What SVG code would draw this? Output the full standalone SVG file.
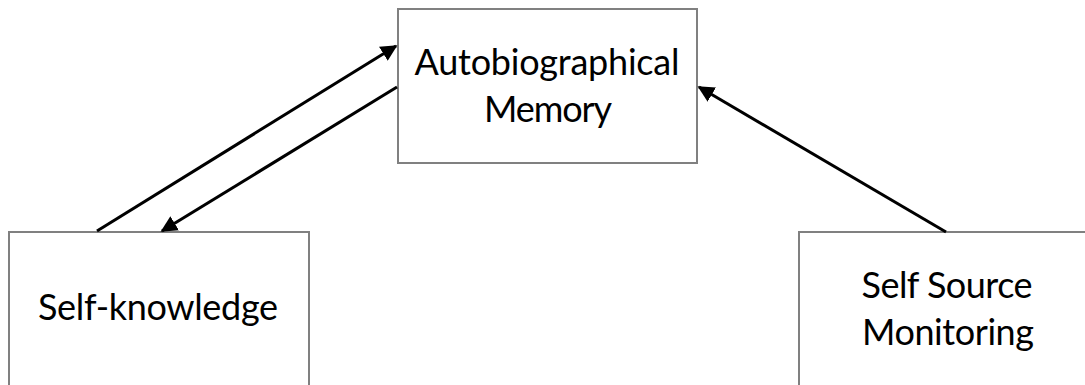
<svg xmlns="http://www.w3.org/2000/svg" width="1085" height="385" viewBox="0 0 1085 385">
<style>
.box{fill:#ffffff;stroke:#808080;stroke-width:2}
.lbl{font-family:Lato,"Liberation Sans",Arial,sans-serif;font-size:36px;fill:#000000;text-anchor:middle}
.conn{stroke:#000000;stroke-width:3;fill:none;marker-end:url(#ah)}
</style>
<defs>
<marker id="ah" viewBox="0 0 10 10" refX="9" refY="5" markerWidth="5.5" markerHeight="5.5" markerUnits="strokeWidth" orient="auto">
<path d="M0,0 L10,5 L0,10 z" fill="#000000"/>
</marker>
</defs>
<rect width="1085" height="385" fill="#ffffff"/>
<g id="node-autobiographical-memory">
<rect class="box" x="398" y="9" width="299" height="154"/>
<text class="lbl" x="547" y="75" textLength="265">Autobiographical</text>
<text class="lbl" x="548" y="122" textLength="128">Memory</text>
</g>
<g id="node-self-knowledge">
<rect class="box" x="9" y="232" width="300" height="200"/>
<text class="lbl" x="158" y="320" textLength="240">Self-knowledge</text>
</g>
<g id="node-self-source-monitoring">
<rect class="box" x="799" y="232" width="320" height="200"/>
<text class="lbl" x="947" y="298" textLength="171">Self Source</text>
<text class="lbl" x="948" y="345" textLength="172">Monitoring</text>
</g>
<g id="connectors">
<line class="conn" x1="97" y1="231" x2="396" y2="46"/>
<line class="conn" x1="397" y1="87" x2="162" y2="231"/>
<line class="conn" x1="946" y1="232" x2="699" y2="87"/>
</g>
</svg>
